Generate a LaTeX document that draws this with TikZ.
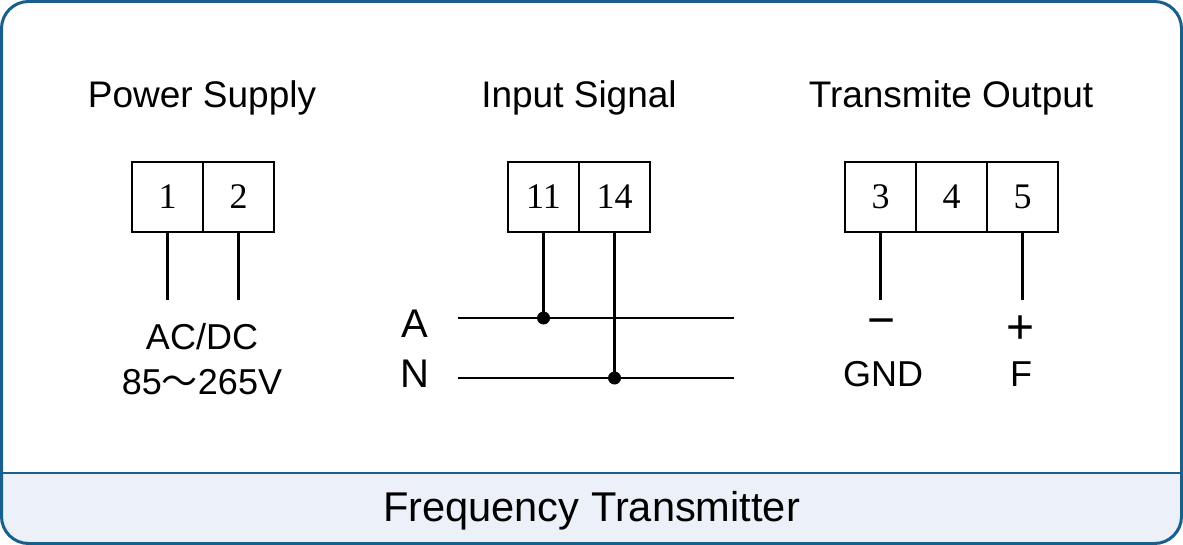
\documentclass[tikz,border=0pt]{standalone}
\usepackage{fontspec}
\setmainfont{Liberation Sans}
\newfontfamily\numfont{Liberation Serif}
\newfontfamily\cjk{Noto Sans CJK SC}
\usepackage{tikz}
\usetikzlibrary{positioning}
\definecolor{frameblue}{RGB}{26,95,140}
\definecolor{bandfill}{RGB}{236,240,248}

\begin{document}
\begin{tikzpicture}[x=0.5pt,y=-0.5pt,
  term/.style={draw,line width=1.1pt,minimum width=35.5pt,minimum height=35pt,
    inner sep=0pt,outer sep=0pt,font=\numfont\fontsize{18}{20}\selectfont},
  head/.style={anchor=base,font=\fontsize{18.5}{22}\selectfont},
  lab/.style={anchor=base,font=\fontsize{18}{21}\selectfont},
  sign/.style={font=\fontsize{24}{26}\selectfont},
  wire/.style={line width=1.1pt},
  dot/.style={circle,fill,inner sep=0pt,minimum size=6.5pt}]
\useasboundingbox (0,0) rectangle (1183,545);
% frame and bottom band
\begin{scope}
\clip[rounded corners=13.5pt] (1.5,1.5) rectangle (1181.5,543.5);
\fill[bandfill] (0,473) rectangle (1183,545);
\end{scope}
\draw[frameblue,line width=1.2pt] (1.5,473) -- (1181.5,473);
\draw[frameblue,line width=1.5pt,rounded corners=13.5pt] (1.5,1.5) rectangle (1181.5,543.5);
\node[anchor=base,font=\fontsize{20.8}{24}\selectfont] (ft) at (591.5,521) {Frequency Transmitter};

% power supply
\node[head] (ps) at (202,108) {Power Supply};
\node[term] (t1) at (167.5,197) {1};
\node[term,right=0pt of t1] (t2) {2};
\coordinate (w1) at ([yshift=-34pt]t1.south);
\coordinate (w2) at ([yshift=-34pt]t2.south);
\draw[wire] (t1.south) -- (w1);
\draw[wire] (t2.south) -- (w2);
\node[lab] (acdc) at (202,350) {AC/DC};
\node[lab] (volt) at (202,394) {85{\cjk ～}265V};

% input signal
\node[head] (is) at (579,108) {Input Signal};
\node[term] (t11) at (543.5,197) {11};
\node[term,right=0pt of t11] (t14) {14};
\coordinate (aL) at (458,318);
\coordinate (aR) at (734,318);
\coordinate (nL) at (458,378);
\coordinate (nR) at (734,378);
\draw[wire] (aL) -- (aR);
\draw[wire] (nL) -- (nR);
\node[dot] (d11) at (t11.south |- aL) {};
\node[dot] (d14) at (t14.south |- nL) {};
\draw[wire] (t11.south) -- (d11.center);
\draw[wire] (t14.south) -- (d14.center);
\node[lab,font=\fontsize{20}{22}\selectfont] (la) at (415,337) {A};
\node[lab,font=\fontsize{20}{22}\selectfont] (ln) at (415,387) {N};

% transmite output
\node[head] (to) at (951,108) {Transmite Output};
\node[term] (t3) at (880.5,197) {3};
\node[term,right=0pt of t3] (t4) {4};
\node[term,right=0pt of t4] (t5) {5};
\coordinate (w3) at ([yshift=-34pt]t3.south);
\coordinate (w5) at ([yshift=-34pt]t5.south);
\draw[wire] (t3.south) -- (w3);
\draw[wire] (t5.south) -- (w5);
\node[sign] (minus) at (882,328) {−};
\node[sign] (plus) at (1021,330) {+};
\node[lab] (gnd) at (883,386) {GND};
\node[lab] (f) at (1021,386) {F};
\end{tikzpicture}
\end{document}
